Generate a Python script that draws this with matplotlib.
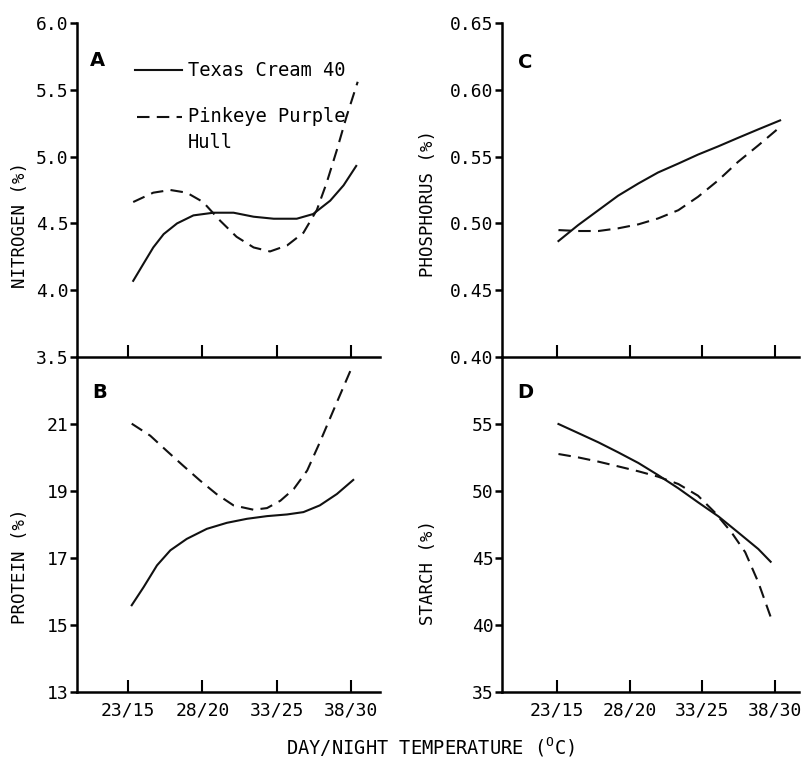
import numpy as np
import matplotlib.pyplot as plt
from matplotlib.ticker import FormatStrFormatter

plt.rcParams['font.family'] = ['DejaVu Sans Mono', 'DejaVu Sans']
plt.rcParams['mathtext.fontset'] = 'custom'
plt.rcParams['mathtext.rm'] = 'DejaVu Sans Mono'

TEMPS = ["23/15", "28/20", "33/25", "38/30"]
TEMP_POS = [0, 1, 2, 3]

# A: nitrogen (%)
n_tc_x = [0.07, 0.21, 0.34, 0.48, 0.66, 0.88, 1.15, 1.42, 1.69, 1.96, 2.27, 2.49, 2.72, 2.90, 3.07]
n_tc_y = [4.07, 4.20, 4.32, 4.42, 4.50, 4.56, 4.58, 4.58, 4.55, 4.535, 4.535, 4.57, 4.67, 4.785, 4.93]
n_pp_x = [0.07, 0.34, 0.57, 0.79, 1.01, 1.24, 1.46, 1.69, 1.91, 2.14, 2.36, 2.54, 2.67, 2.81, 2.94, 3.09]
n_pp_y = [4.66, 4.73, 4.75, 4.73, 4.66, 4.52, 4.40, 4.32, 4.29, 4.335, 4.43, 4.60, 4.80, 5.05, 5.30, 5.56]

# B: protein (%)
p_tc_x = [0.05, 0.21, 0.39, 0.57, 0.79, 1.06, 1.33, 1.60, 1.87, 2.14, 2.36, 2.58, 2.81, 3.03]
p_tc_y = [15.59, 16.13, 16.78, 17.23, 17.57, 17.87, 18.05, 18.17, 18.25, 18.30, 18.37, 18.57, 18.91, 19.33]
p_pp_x = [0.05, 0.30, 0.52, 0.74, 0.97, 1.19, 1.42, 1.69, 1.87, 2.05, 2.23, 2.41, 2.58, 2.76, 2.99]
p_pp_y = [21.01, 20.65, 20.20, 19.76, 19.31, 18.91, 18.57, 18.44, 18.49, 18.71, 19.06, 19.61, 20.45, 21.39, 22.58]

# C: phosphorus (%)
ph_tc_x = [0.02, 0.29, 0.57, 0.84, 1.12, 1.39, 1.67, 1.94, 2.22, 2.49, 2.77, 3.07]
ph_tc_y = [0.4868, 0.4987, 0.5099, 0.5207, 0.5299, 0.5381, 0.5448, 0.5515, 0.5577, 0.5640, 0.5704, 0.5771]
ph_pp_x = [0.02, 0.29, 0.57, 0.84, 1.12, 1.39, 1.67, 1.94, 2.22, 2.49, 2.77, 3.07]
ph_pp_y = [0.4950, 0.4943, 0.4943, 0.4963, 0.4993, 0.5037, 0.5099, 0.5199, 0.5323, 0.5460, 0.5584, 0.5722]

# D: starch (%)
s_tc_x = [0.02, 0.29, 0.57, 0.84, 1.12, 1.39, 1.67, 1.94, 2.22, 2.49, 2.77, 2.94]
s_tc_y = [55.00, 54.33, 53.63, 52.89, 52.09, 51.19, 50.20, 49.16, 48.11, 46.92, 45.67, 44.72]
s_pp_x = [0.02, 0.29, 0.57, 0.84, 1.12, 1.39, 1.67, 1.94, 2.17, 2.40, 2.59, 2.77, 2.95]
s_pp_y = [52.76, 52.51, 52.19, 51.84, 51.47, 51.07, 50.52, 49.65, 48.41, 46.92, 45.43, 43.19, 40.45]

W, H = 801, 760
fig = plt.figure(figsize=(W / 100, H / 100), dpi=100)


def px_axes(l, t, r, b):
    return fig.add_axes([l / W, (H - b) / H, (r - l) / W, (b - t) / H])


axA = px_axes(77, 23, 380, 357)
axB = px_axes(77, 357, 380, 692)
axC = px_axes(502, 23, 799, 357)
axD = px_axes(502, 357, 799, 692)

DASH = (0, (6, 3.5))
LW = 1.5


def style(ax, xlim, ylim, yticks, fmt, show_x):
    for s in ('top', 'right'):
        ax.spines[s].set_visible(False)
    for s in ('left', 'bottom'):
        ax.spines[s].set_linewidth(1.8)
    ax.set_xlim(*xlim)
    ax.set_ylim(*ylim)
    ax.set_xticks(TEMP_POS)
    ax.set_yticks(yticks)
    ax.yaxis.set_major_formatter(FormatStrFormatter(fmt))
    ax.tick_params(axis='x', direction='in', length=9, width=1.5, pad=7,
                   labelsize=13)
    ax.tick_params(axis='y', direction='out', length=5, width=1.8, pad=1,
                   labelsize=13)
    if show_x:
        ax.set_xticklabels(TEMPS)
    else:
        ax.set_xticklabels([])
    ax.patch.set_alpha(0)


left_xlim = (-0.686, 3.39)
right_xlim = (-0.757, 3.33)

style(axA, left_xlim, (3.5, 6.0), [3.5, 4.0, 4.5, 5.0, 5.5, 6.0], '%.1f', False)
style(axB, left_xlim, (13, 23), [13, 15, 17, 19, 21], '%d', True)
style(axC, right_xlim, (0.40, 0.65), [0.40, 0.45, 0.50, 0.55, 0.60, 0.65], '%.2f', False)
style(axD, right_xlim, (35, 60), [35, 40, 45, 50, 55], '%d', True)

for ax, (tx, ty), (px, py) in [
    (axA, (n_tc_x, n_tc_y), (n_pp_x, n_pp_y)),
    (axB, (p_tc_x, p_tc_y), (p_pp_x, p_pp_y)),
    (axC, (ph_tc_x, ph_tc_y), (ph_pp_x, ph_pp_y)),
    (axD, (s_tc_x, s_tc_y), (s_pp_x, s_pp_y)),
]:
    ax.plot(tx, ty, color='#111111', lw=LW, clip_on=False)
    ax.plot(px, py, color='#111111', lw=LW, ls=DASH, clip_on=False)

# panel letters
for ax, letter, x, y in [(axA, 'A', 0.069, 0.889), (axB, 'B', 0.076, 0.893),
                         (axC, 'C', 0.077, 0.883), (axD, 'D', 0.077, 0.893)]:
    ax.text(x, y, letter, transform=ax.transAxes, ha='center', va='center',
            fontsize=14, fontweight='bold', family='DejaVu Sans')

# y labels
for ax, label, x, y in [(axA, 'NITROGEN (%)', -0.188, 0.395),
                        (axB, 'PROTEIN (%)', -0.188, 0.376),
                        (axC, 'PHOSPHORUS (%)', -0.249, 0.461),
                        (axD, 'STARCH (%)', -0.249, 0.358)]:
    ax.set_ylabel(label, fontsize=12.5)
    ax.yaxis.label.set_va('center')
    ax.yaxis.set_label_coords(x, y)

# legend in panel A
axA.plot([0.191, 0.347], [0.859, 0.859], transform=axA.transAxes,
         color='#111111', lw=LW, clip_on=False)
axA.plot([0.197, 0.347], [0.719, 0.719], transform=axA.transAxes,
         color='#111111', lw=LW, ls=DASH, clip_on=False)
axA.text(0.366, 0.859, 'Texas Cream 40', transform=axA.transAxes,
         ha='left', va='center', fontsize=13.5)
axA.text(0.366, 0.719, 'Pinkeye Purple', transform=axA.transAxes,
         ha='left', va='center', fontsize=13.5)
axA.text(0.366, 0.641, 'Hull', transform=axA.transAxes,
         ha='left', va='center', fontsize=13.5)

fig.text(430 / W, (H - 747) / H, r'DAY/NIGHT TEMPERATURE ($^{\mathrm{O}}$C)',
         ha='center', va='center', fontsize=13.5)

fig.savefig('out.png', dpi=100)
